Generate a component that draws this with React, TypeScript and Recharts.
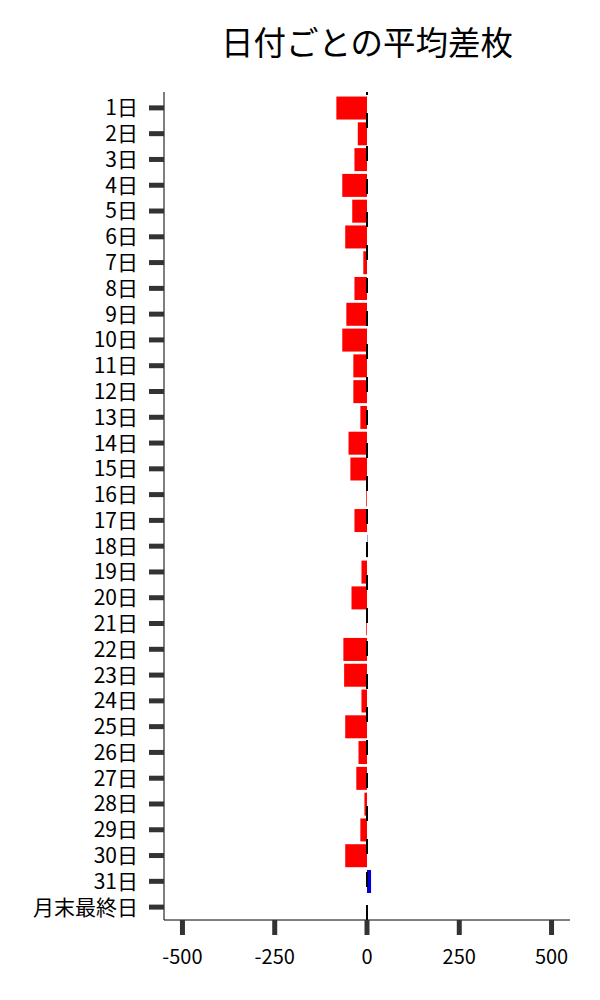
import React from "react";
import { BarChart, Bar, XAxis, YAxis, Cell, ReferenceLine } from "recharts";

const days = [
  "1日", "2日", "3日", "4日", "5日", "6日", "7日", "8日", "9日", "10日",
  "11日", "12日", "13日", "14日", "15日", "16日", "17日", "18日", "19日", "20日",
  "21日", "22日", "23日", "24日", "25日", "26日", "27日", "28日", "29日", "30日",
  "31日", "月末最終日",
];
const avgDiff = [
  -83, -25, -34, -67, -40, -59, -10, -34, -56, -67,
  -37, -37, -18, -50, -45, -2, -34, 1, -15, -42,
  -2, -64, -62, -15, -59, -23, -29, -7, -18, -59,
  11, 0,
];
const xTicks = [-500, -250, 0, 250, 500];

const data = days.map((d, i) => ({ day: d, value: avgDiff[i] }));

const FONT = '"Noto Sans CJK JP", "Noto Sans", sans-serif';

export default function App() {
  return (
    <div style={{ position: "relative", width: 600, height: 1000, fontFamily: FONT }}>
      <div
        style={{
          position: "absolute",
          left: 156,
          width: 406,
          top: 9,
          textAlign: "center",
          fontSize: 32.5,
          color: "#000",
          fontFamily: FONT,
        }}
      >
        日付ごとの平均差枚
      </div>
      <BarChart
        width={600}
        height={1000}
        data={data}
        layout="vertical"
        margin={{ top: 84, right: 38, bottom: 28, left: 0 }}
        barCategoryGap="6%"
      >
        <XAxis
          type="number"
          domain={[-550, 550]}
          ticks={xTicks}
          allowDataOverflow
          height={60}
          axisLine={{ stroke: "#000", strokeWidth: 1 }}
          tickLine={{ stroke: "#333", strokeWidth: 5 }}
          tickSize={15}
          tickMargin={15}
          tick={{ fill: "#000", fontSize: 20, fontFamily: FONT }}
        />
        <YAxis
          type="category"
          dataKey="day"
          width={156}
          interval={0}
          padding={{ top: 3, bottom: 0 }}
          axisLine={{ stroke: "#000", strokeWidth: 1 }}
          tickLine={{ stroke: "#333", strokeWidth: 5 }}
          tickSize={15}
          tickMargin={11}
          tick={{ fill: "#000", fontSize: 21, fontFamily: FONT }}
        />
        <Bar dataKey="value" isAnimationActive={false}>
          {data.map((d, i) => (
            <Cell key={i} fill={d.value >= 0 ? "#0000dd" : "#ff0000"} />
          ))}
        </Bar>
        <ReferenceLine x={0} stroke="#000" strokeWidth={2} strokeDasharray="15 18" />
      </BarChart>
    </div>
  );
}
